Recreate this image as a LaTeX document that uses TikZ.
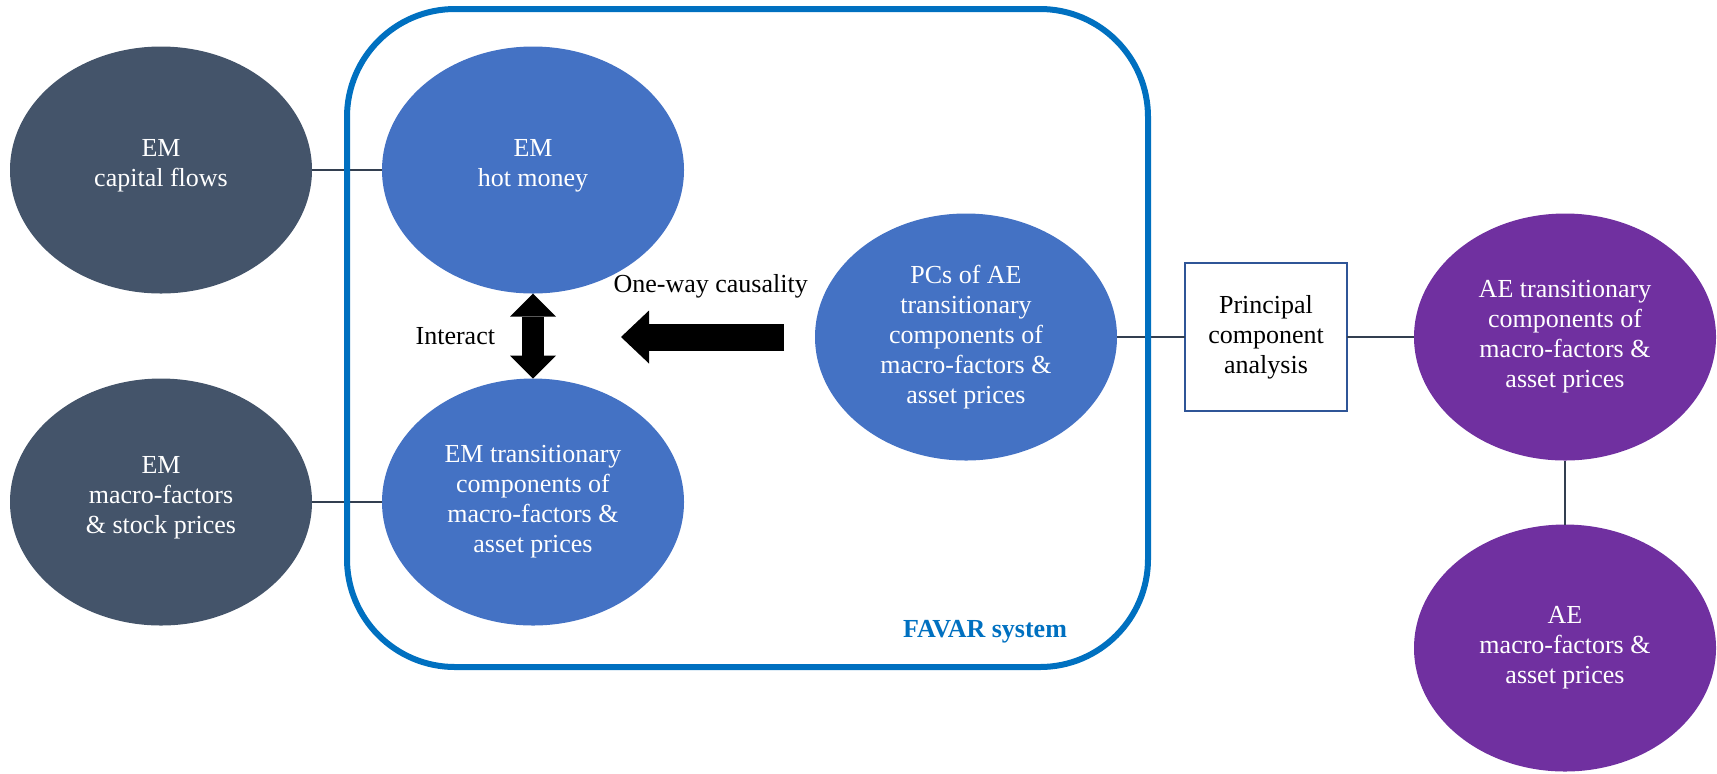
\documentclass[tikz,border=0pt]{standalone}
\usepackage{fontspec}
\setmainfont{Liberation Serif}
\newfontfamily\diagfont{Liberation Serif}
\usepackage{xcolor}
\usepackage{tikz}
\usetikzlibrary{shapes.geometric,arrows.meta,calc}
\definecolor{emslate}{HTML}{44546A}
\definecolor{varblue}{HTML}{4472C4}
\definecolor{aepurple}{HTML}{7030A0}
\definecolor{favarblue}{HTML}{0070C0}
\definecolor{pcaedge}{HTML}{2F5597}
\definecolor{linkdark}{HTML}{333F50}
\tikzset{
  every node/.style={font=\diagfont\fontsize{13}{15}\selectfont, align=center},
  blob/.style={ellipse, minimum width=151pt, minimum height=123.5pt, inner sep=0pt, outer sep=0pt, text=white},
  emdata/.style={blob, fill=emslate},
  favarvar/.style={blob, fill=varblue},
  aedata/.style={blob, fill=aepurple},
  pcabox/.style={draw=pcaedge, line width=0.8pt, fill=white, minimum width=81pt, minimum height=74pt, inner sep=0pt, outer sep=0pt},
  favarbox/.style={draw=favarblue, line width=3pt, rounded corners=54pt, inner sep=0pt},
  link/.style={draw=linkdark, line width=1.4pt},
  bothway/.style={arrows={Triangle[width=23pt,length=11.5pt,line width=0pt]-Triangle[width=23pt,length=11.5pt,line width=0pt]}, line width=11pt, draw=black},
  oneway/.style={arrows={-Triangle[width=26.5pt,length=14pt,line width=0pt]}, line width=13.5pt, draw=black},
  lbl/.style={inner sep=0pt, text=black},
  favarlbl/.style={inner sep=0pt, text=favarblue, font=\diagfont\fontsize{13}{15}\selectfont\bfseries},
}

\begin{document}
\begin{tikzpicture}[x=0.5pt, y=-0.5pt]
  \useasboundingbox (0,0) rectangle (1717,773);

  % 1. EM DATA (left column)
  \node[emdata] (capflow) at (161,170) {EM\\capital flows\\[-8pt]};
  \node[emdata] (emmacro) at (161,502) {EM\\macro-factors\\\& stock prices\\[-8pt]};

  % 2. VARIABLES INSIDE THE FAVAR SYSTEM
  \node[favarvar] (hotmoney) at (533,170) {EM\\hot money\\[-8pt]};
  \node[favarvar] (emtrans) at (533,502) {EM transitionary\\components of\\macro-factors \&\\asset prices};
  \node[favarvar] (aepcs) at (966,337) {PCs of AE\\transitionary\\components of\\macro-factors \&\\asset prices};

  % 3. PCA AND AE DATA (right side)
  \node[pcabox] (pca) at (1266,337) {Principal\\component\\analysis};
  \node[aedata] (aetrans) at (1565,337) {AE transitionary\\components of\\macro-factors \&\\asset prices};
  \node[aedata] (aemacro) at (1565,648) {AE\\macro-factors \&\\asset prices};

  % ==========================================
  % LINKS
  % ==========================================
  \draw[link] (capflow.east) -- (hotmoney.west);
  \draw[link] (emmacro.east) -- (emtrans.west);
  \draw[link] (aepcs.east) -- (pca.west);
  \draw[link] (pca.east) -- (aetrans.west);
  \draw[link] (aetrans.south) -- (aemacro.north);

  % FAVAR frame goes over the links
  \node[favarbox, minimum width=400.5pt, minimum height=329pt] (favar) at (747.5,338) {};
  \node[favarlbl] (favartag) at (985,632) {FAVAR system};

  % ==========================================
  % BLOCK ARROWS
  % ==========================================
  \draw[bothway] (hotmoney.south) -- node[midway, left=13.5pt, lbl] {Interact} (emtrans.north);

  \coordinate (causetail) at ($(aepcs.west)+(-31,0)$);
  \coordinate (causetip) at ($(aepcs.west)+(-194,0)$);
  \draw[oneway] (causetail) -- node[pos=0.45, above=12.7pt, lbl] {One-way causality} (causetip);

\end{tikzpicture}
\end{document}
